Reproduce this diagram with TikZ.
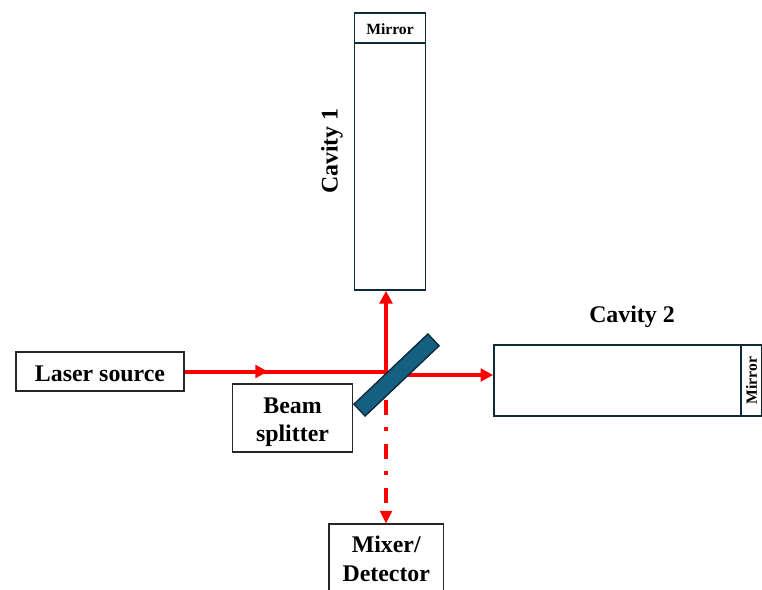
\documentclass[tikz,border=0pt]{standalone}
\usepackage{fontspec}
\setmainfont{Liberation Serif}
\usetikzlibrary{arrows.meta,calc}
\definecolor{beamred}{HTML}{FF0000}
\definecolor{edgeteal}{HTML}{0E2B3A}
\definecolor{splitfill}{HTML}{156082}
\begin{document}
\begin{tikzpicture}[x=0.75pt,y=-0.75pt,
  labelbox/.style={draw=black!85,line width=0.9pt,fill=white,align=center,inner sep=0pt,
     font=\fontsize{17.9}{21.7}\selectfont\bfseries},
  cavity/.style={draw=edgeteal,line width=1.25pt,fill=none,inner sep=0pt},
  mirrorbox/.style={draw=edgeteal,line width=1.05pt,fill=none,inner sep=0pt,
     font=\fontsize{11.7}{13}\selectfont\bfseries},
  heading/.style={inner sep=0pt,font=\fontsize{17.9}{21}\selectfont\bfseries},
  beam/.style={draw=beamred,line width=3pt},
  tip/.style={-{Triangle[length=9.5pt,width=9.5pt]}},
  dashbeam/.style={draw=beamred,line width=3pt,dash pattern=on 11.5pt off 8.5pt on 3pt off 10pt}
]
\useasboundingbox (0,0) rectangle (762,589);
\clip (0,0) rectangle (762,589);

\node[labelbox,minimum width=126pt,minimum height=29.25pt] (laser) at (100,371.5) {\rule{0pt}{15pt}Laser source};
\node[labelbox,minimum width=90pt,minimum height=51pt] (bsplit) at (292.5,418) {\rule{0pt}{18pt}Beam\\splitter};
\node[labelbox,minimum width=85.9pt,minimum height=52.5pt] (mixer) at (386.25,559) {Mixer/\\Detector};

\node[cavity,minimum width=53.25pt,minimum height=207.75pt] (cav1) at (390,151.5) {};
\node[mirrorbox,minimum width=53.25pt,minimum height=22.5pt] (mirror1) at (390,28) {\rule{0pt}{10pt}Mirror};
\node[cavity,minimum width=201pt,minimum height=53.25pt] (cav2) at (628,380.5) {};
\node[mirrorbox,rotate=90,minimum width=53.25pt,minimum height=15.75pt] (mirror2) at (751.5,380.5) {Mirror};

\node[heading,rotate=90] (cav1label) at (332,151) {Cavity 1};
\node[heading] (cav2label) at (632,316.5) {Cavity 2};

\coordinate (junction) at (386,371.5);
\coordinate (midtip) at (268,371.5);
\coordinate (splitcentre) at (396.5,375);
\coordinate (lower) at (386,400);

\draw[beam] (laser.east) -- (junction);
\draw[beam,tip] (laser.east) -- (midtip);
\draw[beam,tip] ($(junction)+(0,1.5)$) -- (junction |- cav1.south);
\draw[beam,tip] (splitcentre) -- (splitcentre -| cav2.west);
\draw[dashbeam] (lower) -- ($(lower |- mixer.north)+(0,-12)$);
\fill[beamred] (lower |- mixer.north) -- +(-6.3,-12.5) -- +(6.3,-12.5) -- cycle;

\node[draw=edgeteal,line width=1.05pt,fill=splitfill,rotate=43.5,minimum width=76.5pt,minimum height=12.2pt,inner sep=0pt] (splitter) at (splitcentre) {};
\end{tikzpicture}
\end{document}
